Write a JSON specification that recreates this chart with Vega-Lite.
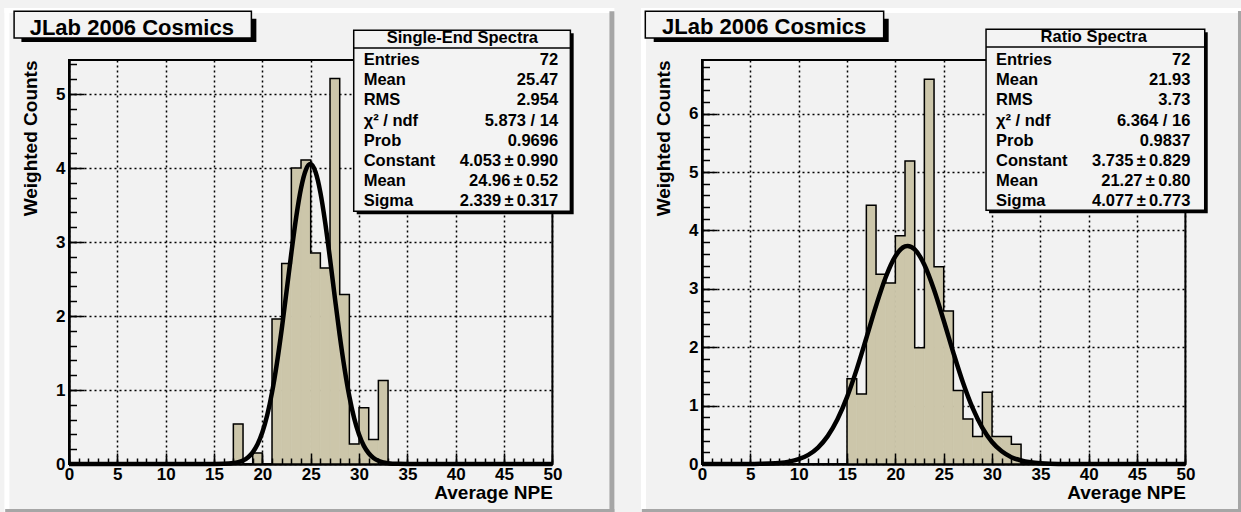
{
"$schema": "https://vega.github.io/schema/vega-lite/v6.json",
"padding": {"left": 3, "top": 6, "right": 0, "bottom": 0},
"background": "#f2f2f2",
"spacing": 149,
"bounds": "flush",
"datasets": {
"histL": [{"lo":0,"hi":1,"n":0},{"lo":1,"hi":2,"n":0},{"lo":2,"hi":3,"n":0},{"lo":3,"hi":4,"n":0},{"lo":4,"hi":5,"n":0},{"lo":5,"hi":6,"n":0},{"lo":6,"hi":7,"n":0},{"lo":7,"hi":8,"n":0},{"lo":8,"hi":9,"n":0},{"lo":9,"hi":10,"n":0},{"lo":10,"hi":11,"n":0},{"lo":11,"hi":12,"n":0},{"lo":12,"hi":13,"n":0},{"lo":13,"hi":14,"n":0},{"lo":14,"hi":15,"n":0},{"lo":15,"hi":16,"n":0},{"lo":16,"hi":17,"n":0},{"lo":17,"hi":18,"n":0.54},{"lo":18,"hi":19,"n":0},{"lo":19,"hi":20,"n":0.15},{"lo":20,"hi":21,"n":0},{"lo":21,"hi":22,"n":1.96},{"lo":22,"hi":23,"n":2.71},{"lo":23,"hi":24,"n":4.0},{"lo":24,"hi":25,"n":4.11},{"lo":25,"hi":26,"n":2.85},{"lo":26,"hi":27,"n":2.65},{"lo":27,"hi":28,"n":5.21},{"lo":28,"hi":29,"n":2.29},{"lo":29,"hi":30,"n":0.27},{"lo":30,"hi":31,"n":0.76},{"lo":31,"hi":32,"n":0.33},{"lo":32,"hi":33,"n":1.13},{"lo":33,"hi":34,"n":0},{"lo":34,"hi":35,"n":0},{"lo":35,"hi":36,"n":0},{"lo":36,"hi":37,"n":0},{"lo":37,"hi":38,"n":0},{"lo":38,"hi":39,"n":0},{"lo":39,"hi":40,"n":0},{"lo":40,"hi":41,"n":0},{"lo":41,"hi":42,"n":0},{"lo":42,"hi":43,"n":0},{"lo":43,"hi":44,"n":0},{"lo":44,"hi":45,"n":0},{"lo":45,"hi":46,"n":0},{"lo":46,"hi":47,"n":0},{"lo":47,"hi":48,"n":0},{"lo":48,"hi":49,"n":0},{"lo":49,"hi":50,"n":0}],
"histR": [{"lo":0,"hi":1,"n":0},{"lo":1,"hi":2,"n":0},{"lo":2,"hi":3,"n":0},{"lo":3,"hi":4,"n":0},{"lo":4,"hi":5,"n":0},{"lo":5,"hi":6,"n":0},{"lo":6,"hi":7,"n":0},{"lo":7,"hi":8,"n":0},{"lo":8,"hi":9,"n":0},{"lo":9,"hi":10,"n":0},{"lo":10,"hi":11,"n":0},{"lo":11,"hi":12,"n":0},{"lo":12,"hi":13,"n":0},{"lo":13,"hi":14,"n":0},{"lo":14,"hi":15,"n":0},{"lo":15,"hi":16,"n":1.46},{"lo":16,"hi":17,"n":1.2},{"lo":17,"hi":18,"n":4.43},{"lo":18,"hi":19,"n":3.25},{"lo":19,"hi":20,"n":3.1},{"lo":20,"hi":21,"n":3.91},{"lo":21,"hi":22,"n":5.19},{"lo":22,"hi":23,"n":1.99},{"lo":23,"hi":24,"n":6.59},{"lo":24,"hi":25,"n":3.38},{"lo":25,"hi":26,"n":2.62},{"lo":26,"hi":27,"n":1.26},{"lo":27,"hi":28,"n":0.77},{"lo":28,"hi":29,"n":0.47},{"lo":29,"hi":30,"n":1.23},{"lo":30,"hi":31,"n":0.47},{"lo":31,"hi":32,"n":0.47},{"lo":32,"hi":33,"n":0.34},{"lo":33,"hi":34,"n":0},{"lo":34,"hi":35,"n":0},{"lo":35,"hi":36,"n":0},{"lo":36,"hi":37,"n":0},{"lo":37,"hi":38,"n":0},{"lo":38,"hi":39,"n":0},{"lo":39,"hi":40,"n":0},{"lo":40,"hi":41,"n":0},{"lo":41,"hi":42,"n":0},{"lo":42,"hi":43,"n":0},{"lo":43,"hi":44,"n":0},{"lo":44,"hi":45,"n":0},{"lo":45,"hi":46,"n":0},{"lo":46,"hi":47,"n":0},{"lo":47,"hi":48,"n":0},{"lo":48,"hi":49,"n":0},{"lo":49,"hi":50,"n":0}],
"curveL": [{"x":0,"f":0},{"x":12,"f":0},{"x":14,"f":0.00005},{"x":15,"f":0.0005},{"x":16,"f":0.0026},{"x":17,"f":0.0124},{"x":17.5,"f":0.025},{"x":18,"f":0.048},{"x":18.5,"f":0.089},{"x":19,"f":0.158},{"x":19.5,"f":0.266},{"x":20,"f":0.428},{"x":20.5,"f":0.658},{"x":21,"f":0.967},{"x":21.5,"f":1.357},{"x":22,"f":1.82},{"x":22.5,"f":2.331},{"x":23,"f":2.853},{"x":23.5,"f":3.336},{"x":24,"f":3.726},{"x":24.5,"f":3.975},{"x":24.96,"f":4.053},{"x":25.5,"f":3.946},{"x":26,"f":3.672},{"x":26.5,"f":3.263},{"x":27,"f":2.771},{"x":27.5,"f":2.247},{"x":28,"f":1.741},{"x":28.5,"f":1.29},{"x":29,"f":0.912},{"x":29.5,"f":0.616},{"x":30,"f":0.398},{"x":30.5,"f":0.245},{"x":31,"f":0.145},{"x":31.5,"f":0.081},{"x":32,"f":0.044},{"x":32.5,"f":0.022},{"x":33,"f":0.011},{"x":34,"f":0.002},{"x":35,"f":0.0004},{"x":36,"f":0},{"x":50,"f":0}],
"curveR": [{"x":0,"f":0},{"x":2,"f":0.0001},{"x":4,"f":0.0005},{"x":5,"f":0.0013},{"x":6,"f":0.0034},{"x":7,"f":0.0082},{"x":8,"f":0.0187},{"x":9,"f":0.0403},{"x":10,"f":0.0818},{"x":11,"f":0.156},{"x":12,"f":0.282},{"x":13,"f":0.477},{"x":14,"f":0.762},{"x":15,"f":1.145},{"x":16,"f":1.62},{"x":17,"f":2.158},{"x":18,"f":2.708},{"x":19,"f":3.199},{"x":20,"f":3.558},{"x":21,"f":3.727},{"x":21.27,"f":3.735},{"x":22,"f":3.676},{"x":23,"f":3.413},{"x":24,"f":2.985},{"x":25,"f":2.458},{"x":26,"f":1.906},{"x":27,"f":1.391},{"x":28,"f":0.956},{"x":29,"f":0.619},{"x":30,"f":0.377},{"x":31,"f":0.217},{"x":32,"f":0.117},{"x":33,"f":0.06},{"x":34,"f":0.029},{"x":35,"f":0.013},{"x":36,"f":0.005},{"x":38,"f":0.001},{"x":40,"f":0.0001},{"x":50,"f":0}],
"statsL": [{"line":1,"stat":"Entries","val":"72"},{"line":2,"stat":"Mean","val":"25.47"},{"line":3,"stat":"RMS","val":"2.954"},{"line":4,"stat":"χ² / ndf","val":"5.873 / 14"},{"line":5,"stat":"Prob","val":"0.9696"},{"line":6,"stat":"Constant","val":"4.053\u2009±\u20090.990"},{"line":7,"stat":"Mean","val":"24.96\u2009±\u20090.52"},{"line":8,"stat":"Sigma","val":"2.339\u2009±\u20090.317"}],
"statsR": [{"line":1,"stat":"Entries","val":"72"},{"line":2,"stat":"Mean","val":"21.93"},{"line":3,"stat":"RMS","val":"3.73"},{"line":4,"stat":"χ² / ndf","val":"6.364 / 16"},{"line":5,"stat":"Prob","val":"0.9837"},{"line":6,"stat":"Constant","val":"3.735\u2009±\u20090.829"},{"line":7,"stat":"Mean","val":"21.27\u2009±\u20090.80"},{"line":8,"stat":"Sigma","val":"4.077\u2009±\u20090.773"}]
},
"hconcat": [
{
 "width": 483.4, "height": 404,
 "layer": [
  {
   "data": {"name": "histL"},
   "layer": [
    {"data": {"values": [{}]}, "mark": {"type": "rect", "fill": "#ffffff"},
     "encoding": {"x": {"datum": -6.682, "type": "quantitative", "scale": {"domain": [0, 50], "nice": false, "zero": false}, "axis": null}, "x2": {"datum": 56.41},
                  "y": {"datum": 6.163, "type": "quantitative", "scale": {"domain": [0, 5.46], "nice": false, "zero": false}, "axis": null}, "y2": {"datum": 6.095}}},
    {"data": {"values": [{}]}, "mark": {"type": "rect", "fill": "#ffffff"},
     "encoding": {"x": {"datum": -6.682, "type": "quantitative", "scale": {"domain": [0, 50], "nice": false, "zero": false}, "axis": null}, "x2": {"datum": -6.165},
                  "y": {"datum": 6.163, "type": "quantitative", "scale": {"domain": [0, 5.46], "nice": false, "zero": false}, "axis": null}, "y2": {"datum": -0.676}}},
    {"data": {"values": [{}]}, "mark": {"type": "rect", "fill": "#a6a6a6"},
     "encoding": {"x": {"datum": 55.9, "type": "quantitative", "scale": {"domain": [0, 50], "nice": false, "zero": false}, "axis": null}, "x2": {"datum": 56.41},
                  "y": {"datum": 6.12, "type": "quantitative", "scale": {"domain": [0, 5.46], "nice": false, "zero": false}, "axis": null}, "y2": {"datum": -0.676}}},
    {"data": {"values": [{}]}, "mark": {"type": "rect", "fill": "#a6a6a6"},
     "encoding": {"x": {"datum": -6.6, "type": "quantitative", "scale": {"domain": [0, 50], "nice": false, "zero": false}, "axis": null}, "x2": {"datum": 56.41},
                  "y": {"datum": -0.608, "type": "quantitative", "scale": {"domain": [0, 5.46], "nice": false, "zero": false}, "axis": null}, "y2": {"datum": -0.676}}},
    {"mark": {"type": "rect", "fill": "#ccc6aa", "stroke": "#ccc6aa", "strokeWidth": 0.7},
     "encoding": {
      "x": {"field": "lo", "type": "quantitative", "scale": {"domain": [0, 50], "nice": false, "zero": false},
            "axis": {"orient": "bottom", "values": [0,5,10,15,20,25,30,35,40,45,50], "grid": true, "ticks": false, "tickSize": 0, "domain": false, "labelPadding": 2, "title": "Average NPE", "titleAnchor": "end", "titlePadding": 1, "zindex": 0}},
      "x2": {"field": "hi"},
      "y": {"field": "n", "type": "quantitative", "scale": {"domain": [0, 5.46], "nice": false, "zero": false},
            "axis": {"orient": "left", "values": [0,1,2,3,4,5], "grid": true, "ticks": false, "tickSize": 0, "domain": false, "labelPadding": 4, "title": "Weighted Counts", "titleAnchor": "end", "titlePadding": 15, "zindex": 0}},
      "y2": {"datum": 0}
     }},
    {"mark": {"type": "line", "interpolate": "step-after", "stroke": "black", "strokeWidth": 1.5},
     "encoding": {
      "x": {"field": "lo", "type": "quantitative", "scale": {"domain": [0, 50], "nice": false, "zero": false},
            "axis": {"orient": "bottom", "values": [0,5,10,15,20,25,30,35,40,45,50], "labels": false, "grid": false, "domain": true, "ticks": true, "tickSize": -11, "title": null, "zindex": 1}},
      "y": {"field": "n", "type": "quantitative", "scale": {"domain": [0, 5.46], "nice": false, "zero": false},
            "axis": {"orient": "left", "values": [0,1,2,3,4,5], "labels": false, "grid": false, "domain": true, "ticks": true, "tickSize": -15, "title": null, "zindex": 1}}
     }},
    {"data": {"name": "curveL"},
     "mark": {"type": "line", "interpolate": "monotone", "stroke": "black", "strokeWidth": 4.5},
     "encoding": {
      "x": {"field": "x", "type": "quantitative", "scale": {"domain": [0, 50], "nice": false, "zero": false},
            "axis": {"orient": "bottom", "values": [0,1,2,3,4,5,6,7,8,9,10,11,12,13,14,15,16,17,18,19,20,21,22,23,24,25,26,27,28,29,30,31,32,33,34,35,36,37,38,39,40,41,42,43,44,45,46,47,48,49,50], "labels": false, "grid": false, "domain": false, "ticks": true, "tickSize": -6, "title": null, "zindex": 1}},
      "y": {"field": "f", "type": "quantitative", "scale": {"domain": [0, 5.46], "nice": false, "zero": false},
            "axis": {"orient": "left", "values": [0,0.2,0.4,0.6,0.8,1,1.2,1.4,1.6,1.8,2,2.2,2.4,2.6,2.8,3,3.2,3.4,3.6,3.8,4,4.2,4.4,4.6,4.8,5,5.2,5.4], "labels": false, "grid": false, "domain": false, "ticks": true, "tickSize": -7.5, "title": null, "zindex": 1}}
     }},
    {"data": {"values": [{}]}, "mark": {"type": "rect", "fill": "black"},
     "encoding": {"x": {"datum": -4.923, "type": "quantitative", "scale": {"domain": [0, 50], "nice": false, "zero": false}, "axis": null}, "x2": {"datum": 19.38},
                  "y": {"datum": 6.018, "type": "quantitative", "scale": {"domain": [0, 5.46], "nice": false, "zero": false}, "axis": null}, "y2": {"datum": 5.703}}},
    {"data": {"values": [{}]}, "mark": {"type": "rect", "fill": "#f3f3f3", "stroke": "black", "strokeWidth": 1.5},
     "encoding": {"x": {"datum": -5.679, "type": "quantitative", "scale": {"domain": [0, 50], "nice": false, "zero": false}, "axis": null}, "x2": {"datum": 18.866},
                  "y": {"datum": 6.118, "type": "quantitative", "scale": {"domain": [0, 5.46], "nice": false, "zero": false}, "axis": null}, "y2": {"datum": 5.757}}},
    {"data": {"values": [{"t": "JLab 2006 Cosmics"}]}, "mark": {"type": "text", "align": "left", "baseline": "alphabetic", "font": "Liberation Sans", "fontWeight": "bold", "fontSize": 22, "color": "black"},
     "encoding": {"x": {"datum": -4.065, "type": "quantitative", "scale": {"domain": [0, 50], "nice": false, "zero": false}, "axis": null},
                  "y": {"datum": 5.802, "type": "quantitative", "scale": {"domain": [0, 5.46], "nice": false, "zero": false}, "axis": null}, "text": {"field": "t"}}},
    {"data": {"values": [{}]}, "mark": {"type": "rect", "fill": "black"},
     "encoding": {"x": {"datum": 29.76, "type": "quantitative", "scale": {"domain": [0, 50], "nice": false, "zero": false}, "axis": null}, "x2": {"datum": 52.2},
                  "y": {"datum": 5.821, "type": "quantitative", "scale": {"domain": [0, 5.46], "nice": false, "zero": false}, "axis": null}, "y2": {"datum": 3.375}}},
    {"data": {"values": [{}]}, "mark": {"type": "rect", "fill": "#f3f3f3", "stroke": "black", "strokeWidth": 1.5},
     "encoding": {"x": {"datum": 29.45, "type": "quantitative", "scale": {"domain": [0, 50], "nice": false, "zero": false}, "axis": null}, "x2": {"datum": 51.86},
                  "y": {"datum": 5.862, "type": "quantitative", "scale": {"domain": [0, 5.46], "nice": false, "zero": false}, "axis": null}, "y2": {"datum": 3.415}}},
    {"data": {"values": [{}]}, "mark": {"type": "rule", "stroke": "black", "strokeWidth": 1.5},
     "encoding": {"x": {"datum": 29.45, "type": "quantitative", "scale": {"domain": [0, 50], "nice": false, "zero": false}, "axis": null}, "x2": {"datum": 51.86},
                  "y": {"datum": 5.622, "type": "quantitative", "scale": {"domain": [0, 5.46], "nice": false, "zero": false}, "axis": null}}},
    {"data": {"values": [{"t": "Single-End Spectra"}]}, "mark": {"type": "text", "align": "center", "baseline": "middle", "font": "Liberation Sans", "fontWeight": "bold", "fontSize": 16.5, "color": "black"},
     "encoding": {"x": {"datum": 40.69, "type": "quantitative", "scale": {"domain": [0, 50], "nice": false, "zero": false}, "axis": null},
                  "y": {"datum": 5.76, "type": "quantitative", "scale": {"domain": [0, 5.46], "nice": false, "zero": false}, "axis": null}, "text": {"field": "t"}}}
   ],
   "resolve": {"axis": {"x": "independent", "y": "independent"}}
  },
  {
   "data": {"name": "statsL"},
   "encoding": {"y": {"field": "line", "type": "quantitative", "scale": {"domain": [1, 21], "reverse": true, "nice": false, "zero": false}, "axis": null}},
   "layer": [
    {"mark": {"type": "text", "align": "left", "baseline": "middle", "font": "Liberation Sans", "fontWeight": "bold", "fontSize": 16.5, "color": "black"},
     "encoding": {"x": {"datum": 30.48, "type": "quantitative", "scale": {"domain": [0, 50], "nice": false, "zero": false}, "axis": null}, "text": {"field": "stat"}}},
    {"mark": {"type": "text", "align": "right", "baseline": "middle", "font": "Liberation Sans", "fontWeight": "bold", "fontSize": 16.5, "color": "black"},
     "encoding": {"x": {"datum": 50.59, "type": "quantitative", "scale": {"domain": [0, 50], "nice": false, "zero": false}, "axis": null}, "text": {"field": "val"}}}
   ]
  }
 ],
 "resolve": {"scale": {"y": "independent"}, "axis": {"x": "independent", "y": "independent"}}
},
{
 "width": 483.4, "height": 404,
 "layer": [
  {
   "data": {"name": "histR"},
   "layer": [
    {"data": {"values": [{}]}, "mark": {"type": "rect", "fill": "#ffffff"},
     "encoding": {"x": {"datum": -6.31, "type": "quantitative", "scale": {"domain": [0, 50], "nice": false, "zero": false}, "axis": null}, "x2": {"datum": 55.96},
                  "y": {"datum": 7.811, "type": "quantitative", "scale": {"domain": [0, 6.92], "nice": false, "zero": false}, "axis": null}, "y2": {"datum": 7.725}}},
    {"data": {"values": [{}]}, "mark": {"type": "rect", "fill": "#ffffff"},
     "encoding": {"x": {"datum": -6.31, "type": "quantitative", "scale": {"domain": [0, 50], "nice": false, "zero": false}, "axis": null}, "x2": {"datum": -5.792},
                  "y": {"datum": 7.811, "type": "quantitative", "scale": {"domain": [0, 6.92], "nice": false, "zero": false}, "axis": null}, "y2": {"datum": -0.8565}}},
    {"data": {"values": [{}]}, "mark": {"type": "rect", "fill": "#a6a6a6"},
     "encoding": {"x": {"datum": 55.44, "type": "quantitative", "scale": {"domain": [0, 50], "nice": false, "zero": false}, "axis": null}, "x2": {"datum": 55.96},
                  "y": {"datum": 7.76, "type": "quantitative", "scale": {"domain": [0, 6.92], "nice": false, "zero": false}, "axis": null}, "y2": {"datum": -0.8565}}},
    {"data": {"values": [{}]}, "mark": {"type": "rect", "fill": "#a6a6a6"},
     "encoding": {"x": {"datum": -6.23, "type": "quantitative", "scale": {"domain": [0, 50], "nice": false, "zero": false}, "axis": null}, "x2": {"datum": 55.96},
                  "y": {"datum": -0.771, "type": "quantitative", "scale": {"domain": [0, 6.92], "nice": false, "zero": false}, "axis": null}, "y2": {"datum": -0.8565}}},
    {"mark": {"type": "rect", "fill": "#ccc6aa", "stroke": "#ccc6aa", "strokeWidth": 0.7},
     "encoding": {
      "x": {"field": "lo", "type": "quantitative", "scale": {"domain": [0, 50], "nice": false, "zero": false},
            "axis": {"orient": "bottom", "values": [0,5,10,15,20,25,30,35,40,45,50], "grid": true, "ticks": false, "tickSize": 0, "domain": false, "labelPadding": 2, "title": "Average NPE", "titleAnchor": "end", "titlePadding": 1, "zindex": 0}},
      "x2": {"field": "hi"},
      "y": {"field": "n", "type": "quantitative", "scale": {"domain": [0, 6.92], "nice": false, "zero": false},
            "axis": {"orient": "left", "values": [0,1,2,3,4,5,6], "grid": true, "ticks": false, "tickSize": 0, "domain": false, "labelPadding": 4, "title": "Weighted Counts", "titleAnchor": "end", "titlePadding": 15, "zindex": 0}},
      "y2": {"datum": 0}
     }},
    {"mark": {"type": "line", "interpolate": "step-after", "stroke": "black", "strokeWidth": 1.5},
     "encoding": {
      "x": {"field": "lo", "type": "quantitative", "scale": {"domain": [0, 50], "nice": false, "zero": false},
            "axis": {"orient": "bottom", "values": [0,5,10,15,20,25,30,35,40,45,50], "labels": false, "grid": false, "domain": true, "ticks": true, "tickSize": -11, "title": null, "zindex": 1}},
      "y": {"field": "n", "type": "quantitative", "scale": {"domain": [0, 6.92], "nice": false, "zero": false},
            "axis": {"orient": "left", "values": [0,1,2,3,4,5,6], "labels": false, "grid": false, "domain": true, "ticks": true, "tickSize": -15, "title": null, "zindex": 1}}
     }},
    {"data": {"name": "curveR"},
     "mark": {"type": "line", "interpolate": "monotone", "stroke": "black", "strokeWidth": 4.5},
     "encoding": {
      "x": {"field": "x", "type": "quantitative", "scale": {"domain": [0, 50], "nice": false, "zero": false},
            "axis": {"orient": "bottom", "values": [0,1,2,3,4,5,6,7,8,9,10,11,12,13,14,15,16,17,18,19,20,21,22,23,24,25,26,27,28,29,30,31,32,33,34,35,36,37,38,39,40,41,42,43,44,45,46,47,48,49,50], "labels": false, "grid": false, "domain": false, "ticks": true, "tickSize": -6, "title": null, "zindex": 1}},
      "y": {"field": "f", "type": "quantitative", "scale": {"domain": [0, 6.92], "nice": false, "zero": false},
            "axis": {"orient": "left", "values": [0,0.2,0.4,0.6,0.8,1,1.2,1.4,1.6,1.8,2,2.2,2.4,2.6,2.8,3,3.2,3.4,3.6,3.8,4,4.2,4.4,4.6,4.8,5,5.2,5.4,5.6,5.8,6,6.2,6.4,6.6,6.8], "labels": false, "grid": false, "domain": false, "ticks": true, "tickSize": -7.5, "title": null, "zindex": 1}}
     }},
    {"data": {"values": [{}]}, "mark": {"type": "rect", "fill": "black"},
     "encoding": {"x": {"datum": -4.996, "type": "quantitative", "scale": {"domain": [0, 50], "nice": false, "zero": false}, "axis": null}, "x2": {"datum": 19.31},
                  "y": {"datum": 7.628, "type": "quantitative", "scale": {"domain": [0, 6.92], "nice": false, "zero": false}, "axis": null}, "y2": {"datum": 7.2285}}},
    {"data": {"values": [{}]}, "mark": {"type": "rect", "fill": "#f3f3f3", "stroke": "black", "strokeWidth": 1.5},
     "encoding": {"x": {"datum": -5.865, "type": "quantitative", "scale": {"domain": [0, 50], "nice": false, "zero": false}, "axis": null}, "x2": {"datum": 18.79},
                  "y": {"datum": 7.754, "type": "quantitative", "scale": {"domain": [0, 6.92], "nice": false, "zero": false}, "axis": null}, "y2": {"datum": 7.297}}},
    {"data": {"values": [{"t": "JLab 2006 Cosmics"}]}, "mark": {"type": "text", "align": "left", "baseline": "alphabetic", "font": "Liberation Sans", "fontWeight": "bold", "fontSize": 22, "color": "black"},
     "encoding": {"x": {"datum": -4.137, "type": "quantitative", "scale": {"domain": [0, 50], "nice": false, "zero": false}, "axis": null},
                  "y": {"datum": 7.36, "type": "quantitative", "scale": {"domain": [0, 6.92], "nice": false, "zero": false}, "axis": null}, "text": {"field": "t"}}},
    {"data": {"values": [{}]}, "mark": {"type": "rect", "fill": "black"},
     "encoding": {"x": {"datum": 29.69, "type": "quantitative", "scale": {"domain": [0, 50], "nice": false, "zero": false}, "axis": null}, "x2": {"datum": 52.31},
                  "y": {"datum": 7.395, "type": "quantitative", "scale": {"domain": [0, 6.92], "nice": false, "zero": false}, "axis": null}, "y2": {"datum": 4.294}}},
    {"data": {"values": [{}]}, "mark": {"type": "rect", "fill": "#f3f3f3", "stroke": "black", "strokeWidth": 1.5},
     "encoding": {"x": {"datum": 29.38, "type": "quantitative", "scale": {"domain": [0, 50], "nice": false, "zero": false}, "axis": null}, "x2": {"datum": 52.0},
                  "y": {"datum": 7.446, "type": "quantitative", "scale": {"domain": [0, 6.92], "nice": false, "zero": false}, "axis": null}, "y2": {"datum": 4.346}}},
    {"data": {"values": [{}]}, "mark": {"type": "rule", "stroke": "black", "strokeWidth": 1.5},
     "encoding": {"x": {"datum": 29.38, "type": "quantitative", "scale": {"domain": [0, 50], "nice": false, "zero": false}, "axis": null}, "x2": {"datum": 52.0},
                  "y": {"datum": 7.143, "type": "quantitative", "scale": {"domain": [0, 6.92], "nice": false, "zero": false}, "axis": null}}},
    {"data": {"values": [{"t": "Ratio Spectra"}]}, "mark": {"type": "text", "align": "center", "baseline": "middle", "font": "Liberation Sans", "fontWeight": "bold", "fontSize": 16.5, "color": "black"},
     "encoding": {"x": {"datum": 40.52, "type": "quantitative", "scale": {"domain": [0, 50], "nice": false, "zero": false}, "axis": null},
                  "y": {"datum": 7.31, "type": "quantitative", "scale": {"domain": [0, 6.92], "nice": false, "zero": false}, "axis": null}, "text": {"field": "t"}}}
   ],
   "resolve": {"axis": {"x": "independent", "y": "independent"}}
  },
  {
   "data": {"name": "statsR"},
   "encoding": {"y": {"field": "line", "type": "quantitative", "scale": {"domain": [1, 21], "reverse": true, "nice": false, "zero": false}, "axis": null}},
   "layer": [
    {"mark": {"type": "text", "align": "left", "baseline": "middle", "font": "Liberation Sans", "fontWeight": "bold", "fontSize": 16.5, "color": "black"},
     "encoding": {"x": {"datum": 30.41, "type": "quantitative", "scale": {"domain": [0, 50], "nice": false, "zero": false}, "axis": null}, "text": {"field": "stat"}}},
    {"mark": {"type": "text", "align": "right", "baseline": "middle", "font": "Liberation Sans", "fontWeight": "bold", "fontSize": 16.5, "color": "black"},
     "encoding": {"x": {"datum": 50.51, "type": "quantitative", "scale": {"domain": [0, 50], "nice": false, "zero": false}, "axis": null}, "text": {"field": "val"}}}
   ]
  }
 ],
 "resolve": {"scale": {"y": "independent"}, "axis": {"x": "independent", "y": "independent"}}
}
],
"config": {
 "view": {"fill": "#f2f2f2", "stroke": "black", "strokeWidth": 2},
 "axis": {"labelFont": "Liberation Sans", "labelFontWeight": "bold", "labelFontSize": 17, "labelColor": "black",
          "titleFont": "Liberation Sans", "titleFontWeight": "bold", "titleFontSize": 19, "titleColor": "black",
          "domainColor": "black", "domainWidth": 2.5, "tickColor": "black", "tickWidth": 1.5,
          "gridColor": "black", "gridDash": [2, 3], "gridWidth": 1.5, "gridOpacity": 1,
          "labelOverlap": false, "labelFlush": false}
}
}
